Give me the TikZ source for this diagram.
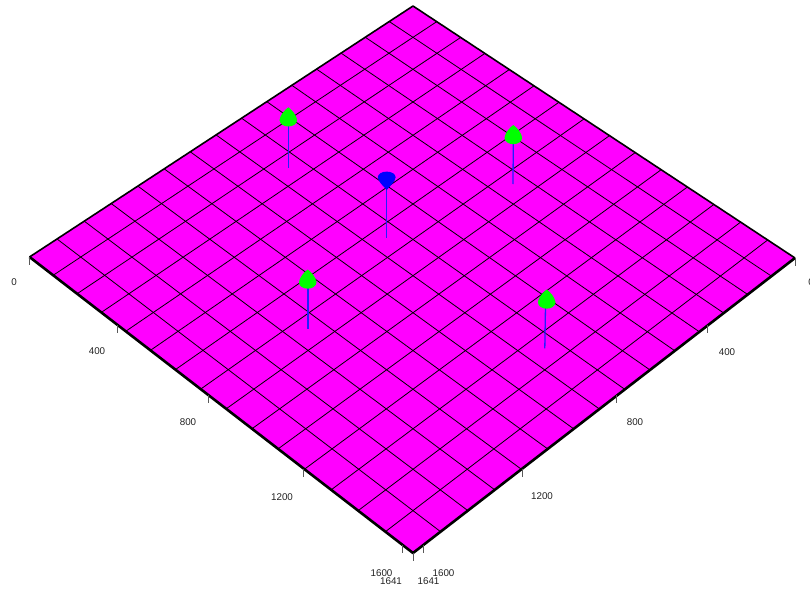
\documentclass[tikz,border=0pt]{standalone}
\usepackage{fontspec}
\setmainfont{Liberation Sans}
\definecolor{mag}{HTML}{FF00FF}
\definecolor{grn}{HTML}{00FF00}
\definecolor{wellblue}{HTML}{0000FF}
\definecolor{stickcol}{HTML}{2020FF}
\definecolor{lblcol}{HTML}{222222}
\newcommand\hompt[3]{%
 \pgfmathsetmacro\hden{1-0.07263*(#2)-0.07626*(#3)}%
 \pgfmathsetmacro\hxx{(324.26*(#2)-385.75*(#3)+413)/\hden}%
 \pgfmathsetmacro\hyy{(233.26*(#2)+231.40*(#3)+6)/\hden}%
 \coordinate (#1) at (\hxx,\hyy);}
\begin{document}
\begin{tikzpicture}[x=1pt,y=-1pt,
  gridline/.style={black,line width=0.8pt},
  backedge/.style={black,line width=1.6pt,line join=round},
  frontedge/.style={black,line width=2.6pt,line join=round},
  tickline/.style={black!65,line width=0.9pt},
  stickline/.style={stickcol,line width=1.3pt},
  lbl/.style={text=lblcol,font=\fontsize{9.8}{11}\selectfont,inner sep=0pt},
  greencone/.pic={
    \fill[grn] (0,0) .. controls (-3,2) and (-8.7,8) .. (-8.7,13) -- (8.7,13) .. controls (8.7,8) and (3,2) .. (0,0) -- cycle;
    \fill[grn] (0,13) ellipse[x radius=8.7, y radius=6.2];
  },
  bluedrop/.pic={
    \fill[wellblue] (0,0) ellipse[x radius=8.8, y radius=5.4];
    \fill[wellblue] (-8.8,0) .. controls (-8.8,5) and (-3,9) .. (0,13) .. controls (3,9) and (8.8,5) .. (8.8,0) -- cycle;
  }]
\useasboundingbox (0,0) rectangle (810,594);
\fill[white] (0,0) rectangle (810,594);
% grid points
\foreach \i in {0,...,15}{
  \hompt{a\i}{\i/15}{0}
  \hompt{b\i}{\i/15}{1}
  \hompt{c\i}{0}{\i/15}
  \hompt{d\i}{1}{\i/15}
}
% plane
\fill[mag] (a0) -- (a15) -- (b15) -- (b0) -- cycle;
\foreach \i in {1,...,14}{
  \draw[gridline] (a\i) -- (b\i);
  \draw[gridline] (c\i) -- (d\i);
}
\draw[backedge] (b0) -- (a0) -- (a15);
\draw[frontedge] (b0) -- (b15) -- (a15);
% ticks
\foreach \v in {0,400,800,1200,1600,1641}{
  \hompt{lt\v}{\v/1641}{1}
  \draw[tickline] (lt\v) -- ++(0,8);
  \hompt{rt\v}{1}{\v/1641}
  \draw[tickline] (rt\v) -- ++(0,8);
}
% labels left axis
\node[lbl] (l0) at (14,282) {0};
\node[lbl] (l400) at (97,351) {400};
\node[lbl] (l800) at (188,422) {800};
\node[lbl] (l1200) at (282,497) {1200};
\node[lbl] (l1600) at (381.5,573.5) {1600};
\node[lbl] (l1641) at (391,581.5) {1641};
% labels right axis
\node[lbl] (r0) at (811,282) {0};
\node[lbl] (r400) at (727,352) {400};
\node[lbl] (r800) at (635,422) {800};
\node[lbl] (r1200) at (542,496) {1200};
\node[lbl] (r1600) at (443.5,573.5) {1600};
\node[lbl] (r1641) at (428.5,581.5) {1641};
% wells
\coordinate (w1top) at (288.3,124);  \coordinate (w1base) at (288.3,168.3);
\coordinate (w2top) at (513.3,141);  \coordinate (w2base) at (513,184);
\coordinate (w3top) at (308,286);    \coordinate (w3base) at (308,329.3);
\coordinate (w4top) at (545.5,306);  \coordinate (w4base) at (544.8,348.3);
\coordinate (w5top) at (386.7,188);  \coordinate (w5base) at (386.7,238.3);
\foreach \w in {1,...,5}{ \draw[stickline] (w\w top) -- (w\w base); }
\pic at (288.3,107.3) {greencone};
\pic at (513.3,125) {greencone};
\pic at (307.7,269.5) {greencone};
\pic at (546.7,289.5) {greencone};
\pic at (386.7,177) {bluedrop};
\end{tikzpicture}
\end{document}
